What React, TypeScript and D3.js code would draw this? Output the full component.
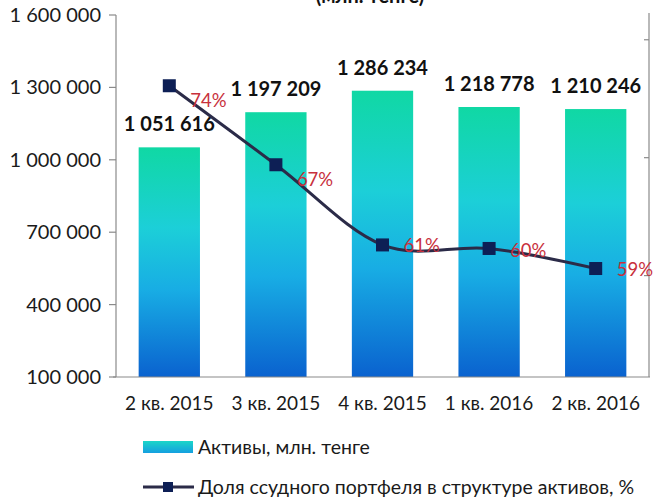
import React from 'react';
import * as d3 from 'd3';

const categories = ['2 кв. 2015', '3 кв. 2015', '4 кв. 2015', '1 кв. 2016', '2 кв. 2016'];
const assets = [1051616, 1197209, 1286234, 1218778, 1210246];
const loanShare = [74.1, 67.4, 60.6, 60.3, 58.6];
const leftTicks = [100000, 400000, 700000, 1000000, 1300000, 1600000];
const rightTicks = [78, 68, 58];
const seriesNames = ['Активы, млн. тенге', 'Доля ссудного портфеля в структуре активов, %'];
const titleText = '(млн. тенге)';

const W = 654;
const H = 499;
const left = 116;
const right = 649;
const top = 15;
const bottom = 377;
const FONT = 'Lato, "Noto Sans", sans-serif';

const locale = d3.formatLocale({ thousands: ' ', grouping: [3], decimal: ',', currency: ['', ''] });
const fmt = locale.format(',');

export default function App() {
  const x = d3.scaleBand().domain(categories).range([left, right]).padding(0);
  const yL = d3.scaleLinear().domain([100000, 1600000]).range([bottom, top]);
  const yR = d3.scaleLinear().domain([49.4, 80.1]).range([bottom, top]);
  const bw = x.bandwidth() * 0.575;
  const cx = (c: string) => (x(c) as number) + x.bandwidth() / 2;

  const line = d3
    .line<number>()
    .x((_, i) => cx(categories[i]))
    .y((d) => yR(d))
    .curve(d3.curveCardinal.tension(0));

  const pctDy = [15, 15, 1, 2, 1];
  const ms = 13;

  return (
    <svg width={W} height={H} style={{ position: 'absolute', left: 0, top: 0, background: '#fff' }}>
      <defs>
        <linearGradient id="barGrad" x1="0" y1="0" x2="0" y2="1">
          <stop offset="0%" stopColor="#10d8a4" />
          <stop offset="35%" stopColor="#1ccfd8" />
          <stop offset="62%" stopColor="#18ade4" />
          <stop offset="100%" stopColor="#0a62cf" />
        </linearGradient>
        <linearGradient id="legGrad" x1="0" y1="0" x2="0" y2="1">
          <stop offset="0%" stopColor="#1ad6c8" />
          <stop offset="100%" stopColor="#159fe0" />
        </linearGradient>
      </defs>

      <text x={370} y={3} textAnchor="middle" fontFamily={FONT} fontWeight="bold" fontSize={20} fill="#111">
        {titleText}
      </text>

      {/* bars */}
      {assets.map((v, i) => (
        <rect
          key={i}
          x={cx(categories[i]) - bw / 2}
          y={yL(v)}
          width={bw}
          height={bottom - yL(v)}
          fill="url(#barGrad)"
        />
      ))}

      {/* left axis */}
      <line x1={left} x2={left} y1={top} y2={bottom} stroke="#8a8a8a" strokeWidth={1.2} />
      {leftTicks.map((t) => (
        <g key={t}>
          <line x1={left - 7} x2={left} y1={yL(t)} y2={yL(t)} stroke="#8a8a8a" strokeWidth={1.2} />
          <text
            x={left - 15}
            y={yL(t)}
            dy="0.35em"
            textAnchor="end"
            fontFamily={FONT}
            fontSize={20}
            fill="#1a1a1a"
          >
            {fmt(t)}
          </text>
        </g>
      ))}

      {/* bottom axis */}
      <line x1={left - 3} x2={right + 1} y1={bottom} y2={bottom} stroke="#8a8a8a" strokeWidth={1.2} />
      {categories.map((c) => (
        <text key={c} x={cx(c)} y={bottom + 33} textAnchor="middle" fontFamily={FONT} fontSize={19} fill="#1a1a1a">
          {c}
        </text>
      ))}

      {/* right axis */}
      <line x1={right} x2={right} y1={top - 2} y2={bottom} stroke="#8a8a8a" strokeWidth={1.2} />
      {rightTicks.map((t) => (
        <line key={t} x1={right - 5} x2={right} y1={yR(t)} y2={yR(t)} stroke="#8a8a8a" strokeWidth={1.2} />
      ))}

      {/* bar value labels */}
      {assets.map((v, i) => (
        <text
          key={i}
          x={cx(categories[i])}
          y={yL(v) - 16}
          textAnchor="middle"
          fontFamily={FONT}
          fontWeight="bold"
          fontSize={20}
          fill="#111"
        >
          {fmt(v)}
        </text>
      ))}

      {/* line series */}
      <path d={line(loanShare) || ''} fill="none" stroke="#2b2b48" strokeWidth={3} />
      {loanShare.map((v, i) => (
        <rect
          key={i}
          x={cx(categories[i]) - ms / 2}
          y={yR(v) - ms / 2}
          width={ms}
          height={ms}
          fill="#0d1f55"
        />
      ))}
      {loanShare.map((v, i) => (
        <text
          key={i}
          x={cx(categories[i]) + 21}
          y={yR(v) + pctDy[i]}
          dy="0.35em"
          fontFamily={FONT}
          fontSize={18.5}
          fill="#c8303c"
        >
          {Math.round(v)}%
        </text>
      ))}

      {/* legend */}
      <rect x={143} y={441} width={50} height={12} fill="url(#legGrad)" />
      <text x={198} y={447} dy="0.35em" fontFamily={FONT} fontSize={19.5} fill="#1a1a1a">
        {seriesNames[0]}
      </text>
      <line x1={143} x2={194} y1={487} y2={487} stroke="#2b2b48" strokeWidth={3} />
      <rect x={163} y={482} width={10} height={10} fill="#0d1f55" />
      <text x={198} y={487} dy="0.35em" fontFamily={FONT} fontSize={19.5} fill="#1a1a1a">
        {seriesNames[1]}
      </text>
    </svg>
  );
}
